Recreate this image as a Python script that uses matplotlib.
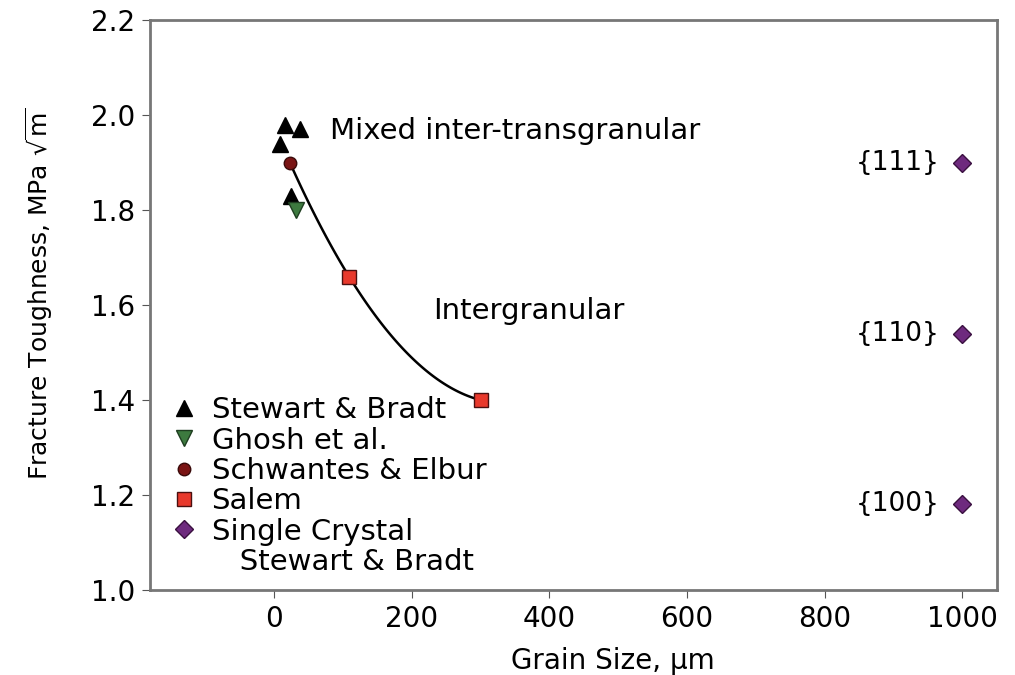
import matplotlib.pyplot as plt
from matplotlib.lines import Line2D
import numpy as np

plt.rcParams['font.family'] = ['DejaVu Sans']
plt.rcParams['mathtext.fontset'] = 'dejavusans'

# data
sb_x = [16, 38, 9, 25]
sb_y = [1.98, 1.97, 1.94, 1.83]
ghosh_x = [32]
ghosh_y = [1.80]
schw_x = [23]
schw_y = [1.90]
salem_x = [109, 300]
salem_y = [1.66, 1.40]
sc_x = [1000, 1000, 1000]
sc_y = [1.90, 1.54, 1.18]
sc_labels = ['{111}', '{110}', '{100}']

fig = plt.figure(figsize=(10.15, 6.75), dpi=100)
ax = fig.add_axes([0.148, 0.126, 0.834, 0.844])

# trend curve through circle + Salem points
fx = schw_x + salem_x
fy = schw_y + salem_y
c = np.polyfit(fx, fy, 2)
xx = np.linspace(fx[0], fx[-1], 100)
ax.plot(xx, np.polyval(c, xx), color='black', lw=1.8, zorder=2)

ax.plot(sb_x, sb_y, '^', color='black', ms=11, ls='none', zorder=3, label='Stewart & Bradt')
ax.plot(ghosh_x, ghosh_y, 'v', color='#3d7a3f', mec='#1e3d20', ms=11, ls='none', zorder=3, label='Ghosh et al.')
ax.plot(schw_x, schw_y, 'o', color='#7a1414', mec='#3a0a0a', ms=9, ls='none', zorder=3, label='Schwantes & Elbur')
ax.plot(salem_x, salem_y, 's', color='#e8392c', mec='#4a1010', ms=10, ls='none', zorder=3, label='Salem')
ax.plot(sc_x, sc_y, 'D', color='#6e2a7e', mec='#3a1040', ms=9, ls='none', zorder=3, label='Single Crystal')

for x, y, t in zip(sc_x, sc_y, sc_labels):
    ax.text(x - 33, y, t, fontsize=19, ha='right', va='center')

ax.text(81, 1.966, 'Mixed inter-transgranular', fontsize=21, va='center')
ax.text(231, 1.588, 'Intergranular', fontsize=21, va='center')

handles, labels = ax.get_legend_handles_labels()
handles.append(Line2D([], [], ls='none'))
labels.append('   Stewart & Bradt')
leg = ax.legend(handles, labels, loc='upper left', bbox_to_anchor=(0.026, 0.34),
                frameon=False, fontsize=21, handlelength=0.8, handletextpad=0.55,
                labelspacing=0.08, borderpad=0, borderaxespad=0)

ax.set_xlim(-180, 1050)
ax.set_ylim(1.0, 2.2)
ax.set_xticks([0, 200, 400, 600, 800, 1000])
ax.set_yticks([1.0, 1.2, 1.4, 1.6, 1.8, 2.0, 2.2])
ax.set_yticklabels(['1.0', '1.2', '1.4', '1.6', '1.8', '2.0', '2.2'])
ax.tick_params(labelsize=20, direction='out', length=6, color='#555555', pad=5)
for s in ax.spines.values():
    s.set_color('#777777')
    s.set_linewidth(2)

ax.set_xlabel('Grain Size, µm', fontsize=20)
ax.set_ylabel(r'Fracture Toughness, MPa $\sqrt{\mathrm{m}}$', fontsize=18)
ax.xaxis.set_label_coords(0.547, -0.100)
ax.yaxis.set_label_coords(-0.112, 0.52)

fig.savefig('out.png', dpi=100)
